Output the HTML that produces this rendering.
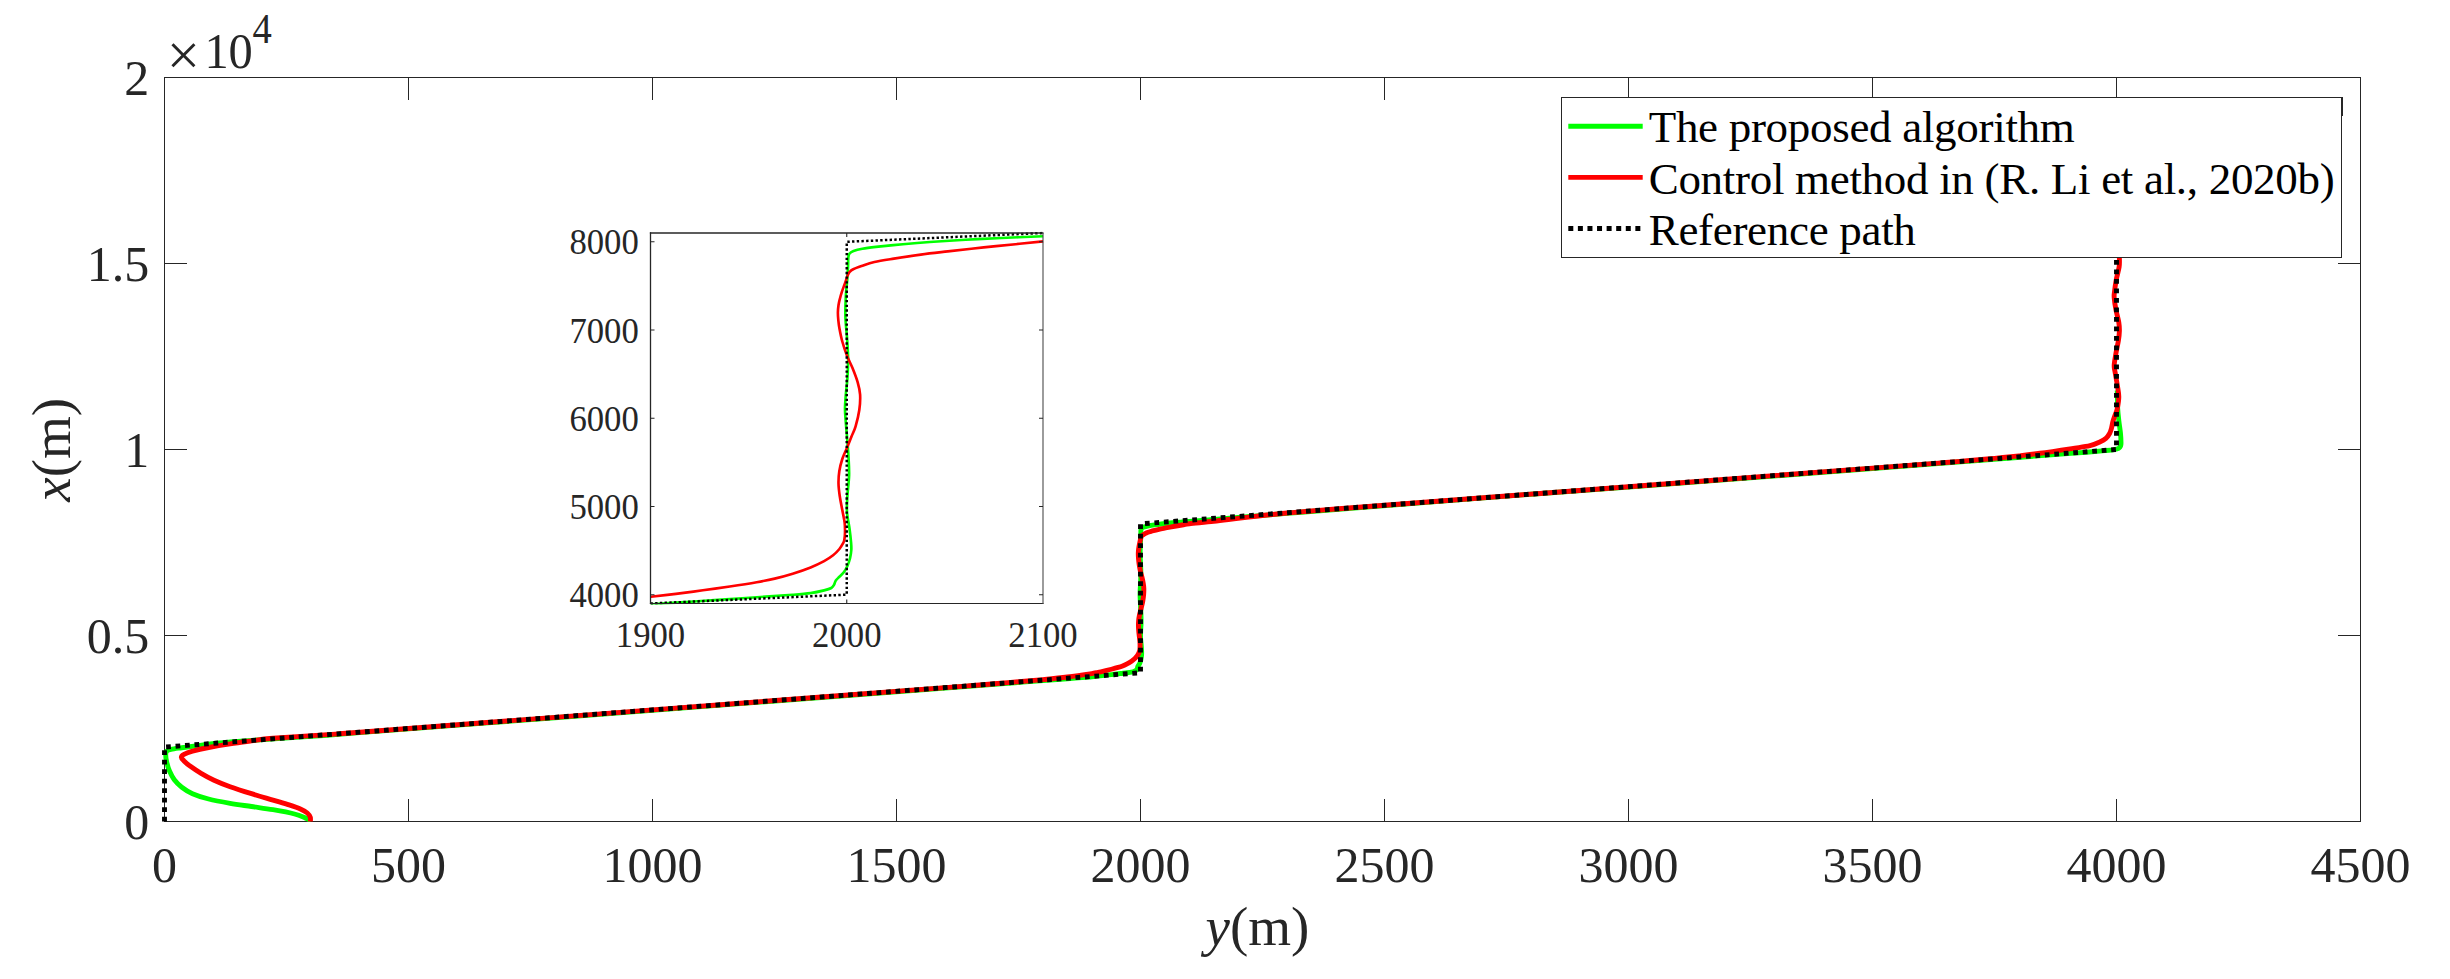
<!DOCTYPE html>
<html><head><meta charset="utf-8"><title>Path following comparison</title>
<style>html,body{margin:0;padding:0;background:#fff}svg{display:block}text{font-family:'Liberation Serif',serif}</style></head><body>
<svg width="2450" height="979" viewBox="0 0 2450 979">
<rect x="0" y="0" width="2450" height="979" fill="#fff"/>
<g stroke="#262626" stroke-width="1" fill="none" shape-rendering="crispEdges">
<rect x="164.5" y="77.5" width="2196.0" height="744.0"/>
<path d="M408.5 822.0V799.0M408.5 77.0V100.0"/>
<path d="M652.5 822.0V799.0M652.5 77.0V100.0"/>
<path d="M896.5 822.0V799.0M896.5 77.0V100.0"/>
<path d="M1140.5 822.0V799.0M1140.5 77.0V100.0"/>
<path d="M1384.5 822.0V799.0M1384.5 77.0V100.0"/>
<path d="M1628.5 822.0V799.0M1628.5 77.0V100.0"/>
<path d="M1872.5 822.0V799.0M1872.5 77.0V100.0"/>
<path d="M2116.5 822.0V799.0M2116.5 77.0V100.0"/>
<path d="M164.0 635.5H187.0M2361.0 635.5H2338.0"/>
<path d="M164.0 449.5H187.0M2361.0 449.5H2338.0"/>
<path d="M164.0 263.5H187.0M2361.0 263.5H2338.0"/>
</g>
<g fill="#262626" font-size="51">
<text transform="translate(164.5 881.9) scale(0.98 1)" text-anchor="middle">0</text>
<text transform="translate(408.5 881.9) scale(0.98 1)" text-anchor="middle">500</text>
<text transform="translate(652.5 881.9) scale(0.98 1)" text-anchor="middle">1000</text>
<text transform="translate(896.5 881.9) scale(0.98 1)" text-anchor="middle">1500</text>
<text transform="translate(1140.5 881.9) scale(0.98 1)" text-anchor="middle">2000</text>
<text transform="translate(1384.5 881.9) scale(0.98 1)" text-anchor="middle">2500</text>
<text transform="translate(1628.5 881.9) scale(0.98 1)" text-anchor="middle">3000</text>
<text transform="translate(1872.5 881.9) scale(0.98 1)" text-anchor="middle">3500</text>
<text transform="translate(2116.5 881.9) scale(0.98 1)" text-anchor="middle">4000</text>
<text transform="translate(2360.5 881.9) scale(0.98 1)" text-anchor="middle">4500</text>
<text transform="translate(149.2 838.9) scale(0.98 1)" text-anchor="end">0</text>
<text transform="translate(149.2 652.9) scale(0.98 1)" text-anchor="end">0.5</text>
<text transform="translate(149.2 466.9) scale(0.98 1)" text-anchor="end">1</text>
<text transform="translate(149.2 280.9) scale(0.98 1)" text-anchor="end">1.5</text>
<text transform="translate(149.2 94.9) scale(0.98 1)" text-anchor="end">2</text>
<text x="166.7" y="75.1" font-size="59">×</text>
<text transform="translate(204.4 68) scale(0.95 1)">10</text>
<text transform="translate(252.4 43) scale(0.93 1)" font-size="41.5">4</text>
</g>
<g fill="#262626" font-size="55">
<text x="1257.5" y="944.5" text-anchor="middle"><tspan font-style="italic">y</tspan>(m)</text>
<text transform="translate(70 449.8) rotate(-90)" text-anchor="middle"><tspan font-style="italic">x</tspan>(m)</text>
</g>
<clipPath id="mc"><rect x="161.5" y="77.5" width="2202.0" height="744.5"/></clipPath>
<g fill="none" stroke-linejoin="round" stroke-linecap="butt" clip-path="url(#mc)">
<path d="M310.30 821.50C310.12 821.20 310.05 820.30 309.20 819.70C308.35 819.10 307.65 818.85 305.20 817.90C302.75 816.95 299.87 815.37 294.50 814.00C289.13 812.63 280.17 810.95 273.00 809.70C265.83 808.45 258.65 807.57 251.50 806.50C244.35 805.43 237.25 804.55 230.10 803.30C222.95 802.05 214.87 800.60 208.60 799.00C202.33 797.40 196.97 795.67 192.50 793.70C188.03 791.73 184.83 789.53 181.80 787.20C178.77 784.87 176.35 782.38 174.30 779.70C172.25 777.02 170.75 773.97 169.50 771.10C168.25 768.23 167.43 765.18 166.80 762.50C166.17 759.82 165.70 756.92 165.70 755.00C165.70 753.08 165.90 751.95 166.80 751.00C167.70 750.05 168.60 749.85 171.10 749.30C173.60 748.75 177.33 748.32 181.80 747.70C186.27 747.08 191.63 746.38 197.90 745.60C204.17 744.82 211.55 743.78 219.40 743.00C227.25 742.22 229.75 742.00 245.00 740.90C260.25 739.80 291.78 737.76 310.90 736.39C330.02 735.01 319.03 735.77 359.70 732.67C400.37 729.57 489.83 722.75 554.90 717.79C619.97 712.83 685.03 707.87 750.10 702.91C815.17 697.95 892.43 692.06 945.30 688.03C998.17 684.00 1042.89 680.61 1067.30 678.73C1091.71 676.84 1085.91 677.24 1091.77 676.72C1097.64 676.19 1099.22 675.94 1102.49 675.58C1105.77 675.22 1108.44 674.91 1111.42 674.56C1114.39 674.22 1117.74 673.81 1120.35 673.51C1122.95 673.21 1125.20 673.00 1127.06 672.75C1128.92 672.51 1130.21 672.34 1131.51 672.03C1132.81 671.73 1134.01 671.25 1134.87 670.90C1135.73 670.54 1136.25 670.27 1136.66 669.88C1137.07 669.50 1137.14 669.11 1137.33 668.58C1137.52 668.04 1137.55 667.25 1137.78 666.68C1138.00 666.11 1138.34 665.73 1138.67 665.16C1139.00 664.59 1139.43 664.02 1139.77 663.26C1140.10 662.50 1140.40 661.61 1140.66 660.61C1140.92 659.60 1141.17 658.36 1141.33 657.23C1141.49 656.11 1141.59 654.93 1141.63 653.86C1141.67 652.79 1141.66 652.33 1141.58 650.82C1141.51 649.31 1141.35 646.94 1141.18 644.79C1141.01 642.64 1140.65 640.22 1140.56 637.92C1140.48 635.62 1140.57 633.59 1140.66 631.00C1140.75 628.42 1141.04 625.13 1141.08 622.40C1141.13 619.67 1141.02 617.37 1140.94 614.64C1140.85 611.91 1140.67 608.48 1140.56 606.04C1140.45 603.60 1140.35 601.95 1140.26 600.01C1140.18 598.06 1140.06 596.30 1140.06 594.36C1140.06 592.41 1140.16 590.48 1140.26 588.33C1140.36 586.18 1140.57 584.04 1140.66 581.45C1140.76 578.87 1140.85 575.68 1140.84 572.81C1140.82 569.93 1140.67 567.07 1140.56 564.21C1140.45 561.34 1140.21 558.48 1140.16 555.60C1140.11 552.73 1140.18 549.69 1140.26 546.96C1140.35 544.22 1140.57 541.42 1140.66 539.20C1140.76 536.98 1140.80 535.07 1140.84 533.63C1140.87 532.20 1140.83 531.38 1140.89 530.60C1140.94 529.81 1140.94 529.38 1141.16 528.91C1141.37 528.44 1141.64 528.12 1142.18 527.77C1142.72 527.42 1143.46 527.09 1144.39 526.80C1145.32 526.51 1146.07 526.36 1147.75 526.04C1149.43 525.73 1152.23 525.25 1154.46 524.90C1156.70 524.56 1158.55 524.28 1161.15 523.98C1163.75 523.67 1167.10 523.33 1170.08 523.05C1173.05 522.77 1175.80 522.54 1179.01 522.29C1182.21 522.04 1183.54 522.00 1189.32 521.53C1195.11 521.06 1205.57 520.14 1213.70 519.45C1221.83 518.77 1225.90 518.42 1238.10 517.42C1250.30 516.42 1270.63 514.75 1286.90 513.43C1303.17 512.11 1311.30 511.45 1335.70 509.51C1360.10 507.58 1400.77 504.37 1433.30 501.83C1465.83 499.29 1498.37 496.72 1530.90 494.27C1563.43 491.82 1571.57 491.43 1628.50 487.15C1685.43 482.86 1799.30 474.13 1872.50 468.55C1945.70 462.97 2031.62 456.42 2067.70 453.67C2103.78 450.91 2082.78 452.51 2089.00 452.00C2095.22 451.49 2100.83 451.00 2105.00 450.60C2109.17 450.20 2111.73 449.97 2114.00 449.60C2116.27 449.23 2117.50 449.00 2118.60 448.40C2119.70 447.80 2120.20 446.90 2120.60 446.00C2121.00 445.10 2121.02 445.08 2121.00 443.00C2120.98 440.92 2120.85 437.13 2120.50 433.50C2120.15 429.87 2119.37 425.28 2118.90 421.20C2118.43 417.12 2117.95 413.37 2117.70 409.00C2117.45 404.63 2117.48 398.08 2117.40 395.00C2117.32 391.92 2117.23 391.25 2117.20 390.50" stroke="#00ff00" stroke-width="4.90"/>
<path d="M310.30 821.50C310.30 820.80 310.80 818.72 310.30 817.30C309.80 815.88 308.87 814.35 307.30 813.00C305.73 811.65 303.93 810.55 300.90 809.20C297.87 807.85 293.75 806.42 289.10 804.90C284.45 803.38 279.27 801.97 273.00 800.10C266.73 798.23 258.65 795.93 251.50 793.70C244.35 791.47 236.35 788.95 230.10 786.70C223.85 784.45 218.83 782.43 214.00 780.20C209.17 777.97 205.03 775.62 201.10 773.30C197.17 770.98 193.25 768.37 190.40 766.30C187.55 764.23 185.52 762.42 184.00 760.90C182.48 759.38 181.30 758.30 181.30 757.20C181.30 756.10 182.13 755.30 184.00 754.30C185.87 753.30 188.40 752.33 192.50 751.20C196.60 750.07 202.33 748.73 208.60 747.50C214.87 746.27 222.95 744.90 230.10 743.80C237.25 742.70 244.35 741.82 251.50 740.90C258.65 739.98 259.03 739.44 273.00 738.30C286.97 737.16 320.85 735.09 335.30 734.08C349.75 733.07 323.10 735.01 359.70 732.22C396.30 729.43 489.83 722.30 554.90 717.34C619.97 712.38 685.03 707.42 750.10 702.46C815.17 697.50 908.70 690.37 945.30 687.58C981.90 684.79 961.57 686.35 969.70 685.72C977.83 685.09 985.97 684.44 994.10 683.79C1002.23 683.13 1010.37 682.47 1018.50 681.78C1026.63 681.08 1034.77 680.41 1042.90 679.62C1051.03 678.83 1059.15 678.06 1067.30 677.05C1075.45 676.05 1086.66 674.37 1091.77 673.59C1096.89 672.81 1095.86 672.83 1098.02 672.37C1100.18 671.91 1102.50 671.37 1104.73 670.85C1106.96 670.33 1109.19 669.82 1111.42 669.25C1113.65 668.68 1116.25 667.99 1118.11 667.44C1119.97 666.88 1121.09 666.52 1122.58 665.92C1124.08 665.32 1125.57 664.64 1127.06 663.85C1128.55 663.07 1130.21 662.08 1131.51 661.20C1132.81 660.31 1133.94 659.39 1134.87 658.54C1135.80 657.69 1136.47 656.94 1137.11 656.09C1137.74 655.24 1138.27 654.26 1138.67 653.44C1139.08 652.62 1139.34 651.79 1139.54 651.16C1139.75 650.53 1139.80 650.42 1139.89 649.64C1139.98 648.87 1140.05 647.76 1140.06 646.52C1140.08 645.28 1140.08 643.80 1139.97 642.22C1139.85 640.64 1139.60 638.90 1139.39 637.03C1139.19 635.16 1138.90 632.87 1138.75 631.00C1138.59 629.14 1138.47 627.58 1138.45 625.86C1138.43 624.14 1138.49 622.40 1138.65 620.67C1138.80 618.94 1139.07 617.14 1139.39 615.48C1139.71 613.83 1140.18 612.34 1140.56 610.76C1140.94 609.19 1141.32 607.55 1141.68 606.04C1142.04 604.53 1142.38 603.56 1142.70 601.69C1143.02 599.83 1143.43 597.05 1143.62 594.82C1143.81 592.59 1143.89 590.27 1143.82 588.33C1143.75 586.39 1143.54 585.04 1143.22 583.18C1142.91 581.32 1142.37 579.02 1141.93 577.15C1141.49 575.28 1140.98 573.83 1140.56 571.96C1140.14 570.10 1139.71 567.87 1139.39 565.93C1139.08 563.99 1138.84 561.84 1138.67 560.33C1138.51 558.81 1138.46 557.93 1138.40 556.83C1138.34 555.72 1138.29 554.74 1138.30 553.71C1138.31 552.67 1138.37 551.60 1138.45 550.63C1138.53 549.66 1138.66 548.79 1138.80 547.89C1138.93 546.98 1139.07 546.09 1139.24 545.19C1139.41 544.29 1139.63 543.39 1139.82 542.49C1140.01 541.58 1140.23 540.49 1140.39 539.75C1140.54 539.00 1140.60 538.53 1140.74 538.02C1140.87 537.50 1140.96 537.09 1141.18 536.67C1141.41 536.25 1141.61 535.91 1142.10 535.49C1142.60 535.07 1143.29 534.65 1144.17 534.14C1145.05 533.63 1146.03 532.94 1147.38 532.41C1148.72 531.88 1150.30 531.50 1152.22 530.98C1154.15 530.46 1156.68 529.79 1158.91 529.29C1161.15 528.78 1163.02 528.45 1165.63 527.94C1168.23 527.43 1171.58 526.79 1174.55 526.25C1177.53 525.72 1181.02 525.16 1183.48 524.73C1185.94 524.31 1184.29 524.30 1189.32 523.72C1194.36 523.15 1205.57 522.20 1213.70 521.30C1221.83 520.40 1229.97 519.29 1238.10 518.32C1246.23 517.35 1254.37 516.37 1262.50 515.49C1270.63 514.61 1278.77 513.79 1286.90 513.04C1295.03 512.28 1303.17 511.62 1311.30 510.95C1319.43 510.28 1323.50 509.96 1335.70 509.02C1347.90 508.08 1335.70 509.02 1384.50 505.30C1433.30 501.58 1547.17 492.90 1628.50 486.70C1709.83 480.50 1823.70 471.82 1872.50 468.10C1921.30 464.38 1909.10 465.31 1921.30 464.38C1933.50 463.45 1937.57 463.17 1945.70 462.52C1953.83 461.87 1961.97 461.17 1970.10 460.47C1978.23 459.77 1986.37 459.09 1994.50 458.32C2002.63 457.54 2011.32 456.66 2018.90 455.82C2026.48 454.99 2031.18 454.50 2040.00 453.30C2048.82 452.10 2063.47 449.87 2071.80 448.60C2080.13 447.33 2085.33 446.80 2090.00 445.70C2094.67 444.60 2097.15 443.22 2099.80 442.00C2102.45 440.78 2104.27 439.82 2105.90 438.40C2107.53 436.98 2108.68 435.13 2109.60 433.50C2110.52 431.87 2110.83 430.65 2111.40 428.60C2111.97 426.55 2112.38 423.47 2113.00 421.20C2113.62 418.93 2114.40 417.03 2115.10 415.00C2115.80 412.97 2116.58 412.05 2117.20 409.00C2117.82 405.95 2118.80 400.78 2118.80 396.70C2118.80 392.62 2117.82 388.58 2117.20 384.50C2116.58 380.42 2115.60 375.42 2115.10 372.20C2114.60 368.98 2114.05 368.40 2114.20 365.20C2114.35 362.00 2115.30 357.08 2116.00 353.00C2116.70 348.92 2117.83 344.38 2118.40 340.70C2118.97 337.02 2119.33 333.97 2119.40 330.90C2119.47 327.83 2119.37 325.77 2118.80 322.30C2118.23 318.83 2116.77 314.17 2116.00 310.10C2115.23 306.03 2114.45 300.97 2114.20 297.90C2113.95 294.83 2114.15 294.77 2114.50 291.70C2114.85 288.63 2115.53 283.58 2116.30 279.50C2117.07 275.42 2118.58 270.67 2119.10 267.20C2119.62 263.73 2119.50 262.40 2119.40 258.70C2119.30 255.00 2118.90 249.78 2118.50 245.00C2118.10 240.22 2117.25 232.50 2117.00 230.00" stroke="#ff0000" stroke-width="4.90"/>
<path d="M164.50 821.50L164.50 747.10L1140.50 672.70L1140.50 523.90L2116.50 449.50L2116.50 226.30" stroke="#000" stroke-width="4.90" stroke-dasharray="4.75 4.75" stroke-linejoin="miter"/>
</g>
<rect x="1561.5" y="97.5" width="780" height="160" fill="#fff" stroke="#262626" stroke-width="1" shape-rendering="crispEdges"/>
<g fill="none" stroke-width="4.90">
<path d="M1568.3 126.3H1642.7" stroke="#00ff00"/>
<path d="M1568.3 177.4H1642.7" stroke="#ff0000"/>
<path d="M1568.3 228.5H1642.7" stroke="#000" stroke-dasharray="5.00 4.58"/>
</g>
<path d="M2342.5 97V116" stroke="#262626" stroke-width="1" shape-rendering="crispEdges"/>
<g fill="#000" font-size="45" letter-spacing="-0.3">
<text x="1648.7" y="142">The proposed algorithm</text>
<text x="1648.7" y="193.5">Control method in (R. Li et al., 2020b)</text>
<text x="1648.7" y="244.5">Reference path</text>
</g>
<rect x="650.5" y="233.0" width="392.5" height="370.5" fill="#fff"/>
<clipPath id="ic"><rect x="650.0" y="231.5" width="394.0" height="373.0"/></clipPath>
<g fill="none" stroke-linejoin="round" clip-path="url(#ic)">
<path d="M650.80 604.20C657.98 603.75 680.73 602.35 693.90 601.50C707.07 600.65 717.83 599.92 729.80 599.10C741.77 598.28 755.22 597.32 765.70 596.60C776.18 595.88 785.22 595.38 792.70 594.80C800.18 594.22 805.37 593.83 810.60 593.10C815.83 592.37 820.65 591.25 824.10 590.40C827.55 589.55 829.65 588.92 831.30 588.00C832.95 587.08 833.25 586.17 834.00 584.90C834.75 583.63 834.90 581.75 835.80 580.40C836.70 579.05 838.07 578.15 839.40 576.80C840.73 575.45 842.47 574.10 843.80 572.30C845.13 570.50 846.35 568.38 847.40 566.00C848.45 563.62 849.45 560.67 850.10 558.00C850.75 555.33 851.13 552.53 851.30 550.00C851.47 547.47 851.40 546.38 851.10 542.80C850.80 539.22 850.18 533.60 849.50 528.50C848.82 523.40 847.35 517.65 847.00 512.20C846.65 506.75 847.05 501.93 847.40 495.80C847.75 489.67 848.92 481.87 849.10 475.40C849.28 468.93 848.85 463.47 848.50 457.00C848.15 450.53 847.45 442.38 847.00 436.60C846.55 430.82 846.13 426.92 845.80 422.30C845.47 417.68 845.00 413.52 845.00 408.90C845.00 404.28 845.40 399.70 845.80 394.60C846.20 389.50 847.02 384.43 847.40 378.30C847.78 372.17 848.17 364.62 848.10 357.80C848.03 350.98 847.45 344.20 847.00 337.40C846.55 330.60 845.60 323.82 845.40 317.00C845.20 310.18 845.47 302.98 845.80 296.50C846.13 290.02 847.02 283.37 847.40 278.10C847.78 272.83 847.95 268.30 848.10 264.90C848.25 261.50 848.08 259.57 848.30 257.70C848.52 255.83 848.53 254.82 849.40 253.70C850.27 252.58 851.33 251.83 853.50 251.00C855.67 250.17 858.67 249.38 862.40 248.70C866.13 248.02 869.15 247.65 875.90 246.90C882.65 246.15 893.92 245.02 902.90 244.20C911.88 243.38 919.33 242.73 929.80 242.00C940.27 241.27 953.73 240.47 965.70 239.80C977.67 239.13 988.70 238.60 1001.60 238.00C1014.50 237.40 1036.18 236.50 1043.10 236.20" stroke="#00ff00" stroke-width="2.65"/>
<path d="M650.80 596.80C654.98 596.32 667.22 594.98 675.90 593.90C684.58 592.82 693.92 591.53 702.90 590.30C711.88 589.07 720.83 587.85 729.80 586.50C738.77 585.15 749.22 583.52 756.70 582.20C764.18 580.88 768.70 580.02 774.70 578.60C780.70 577.18 786.72 575.57 792.70 573.70C798.68 571.83 805.37 569.50 810.60 567.40C815.83 565.30 820.35 563.12 824.10 561.10C827.85 559.08 830.55 557.32 833.10 555.30C835.65 553.28 837.77 550.95 839.40 549.00C841.03 547.05 842.08 545.10 842.90 543.60C843.72 542.10 843.95 541.83 844.30 540.00C844.65 538.17 844.95 535.53 845.00 532.60C845.05 529.67 845.05 526.15 844.60 522.40C844.15 518.65 843.12 514.53 842.30 510.10C841.48 505.67 840.33 500.22 839.70 495.80C839.07 491.38 838.57 487.68 838.50 483.60C838.43 479.52 838.67 475.40 839.30 471.30C839.93 467.20 841.02 462.92 842.30 459.00C843.58 455.08 845.47 451.53 847.00 447.80C848.53 444.07 850.07 440.18 851.50 436.60C852.93 433.02 854.30 430.73 855.60 426.30C856.90 421.87 858.55 415.28 859.30 410.00C860.05 404.72 860.37 399.20 860.10 394.60C859.83 390.00 858.97 386.82 857.70 382.40C856.43 377.98 854.28 372.53 852.50 368.10C850.72 363.67 848.70 360.23 847.00 355.80C845.30 351.37 843.57 346.10 842.30 341.50C841.03 336.90 840.07 331.80 839.40 328.20C838.73 324.60 838.55 322.52 838.30 319.90C838.05 317.28 837.87 314.95 837.90 312.50C837.93 310.05 838.17 307.50 838.50 305.20C838.83 302.90 839.37 300.85 839.90 298.70C840.43 296.55 841.02 294.43 841.70 292.30C842.38 290.17 843.23 288.05 844.00 285.90C844.77 283.75 845.68 281.17 846.30 279.40C846.92 277.63 847.17 276.52 847.70 275.30C848.23 274.08 848.58 273.10 849.50 272.10C850.42 271.10 851.20 270.30 853.20 269.30C855.20 268.30 857.97 267.32 861.50 266.10C865.03 264.88 869.00 263.25 874.40 262.00C879.80 260.75 886.17 259.83 893.90 258.60C901.63 257.37 911.82 255.80 920.80 254.60C929.78 253.40 937.32 252.60 947.80 251.40C958.28 250.20 971.73 248.67 983.70 247.40C995.67 246.13 1009.70 244.80 1019.60 243.80C1029.50 242.80 1039.18 241.80 1043.10 241.40" stroke="#ff0000" stroke-width="2.65"/>
<path d="M650.50 603.50L846.75 594.68L846.75 241.82L1043.00 233.00" stroke="#000" stroke-width="2.50" stroke-dasharray="2.40 2.30" stroke-linejoin="miter"/>
</g>
<g stroke="#262626" fill="none">
<path d="M650.5 232.3V604.0" stroke-width="1.3"/>
<path d="M649.9 233.0H1043.5" stroke-width="1.6"/>
<path d="M649.9 603.5H1043.5" stroke-width="1.1"/>
<path d="M1043.0 233.0V604.0" stroke-width="1.1" stroke="#4a4a4a"/>
<path d="M650.5 594.68H654.5M1043.0 594.68H1039.0" stroke-width="1.1"/>
<path d="M650.5 506.46H654.5M1043.0 506.46H1039.0" stroke-width="1.1"/>
<path d="M650.5 418.25H654.5M1043.0 418.25H1039.0" stroke-width="1.1"/>
<path d="M650.5 330.04H654.5M1043.0 330.04H1039.0" stroke-width="1.1"/>
<path d="M650.5 241.82H654.5M1043.0 241.82H1039.0" stroke-width="1.1"/>
<path d="M846.75 603.5V599.5M846.75 233.0V237.0" stroke-width="1.1"/>
</g>
<g fill="#262626" font-size="35.6">
<text transform="translate(638.8 607.3) scale(0.975 1)" text-anchor="end">4000</text>
<text transform="translate(638.8 519.1) scale(0.975 1)" text-anchor="end">5000</text>
<text transform="translate(638.8 430.9) scale(0.975 1)" text-anchor="end">6000</text>
<text transform="translate(638.8 342.6) scale(0.975 1)" text-anchor="end">7000</text>
<text transform="translate(638.8 254.4) scale(0.975 1)" text-anchor="end">8000</text>
<text transform="translate(650.5 646.5) scale(0.975 1)" text-anchor="middle">1900</text>
<text transform="translate(846.8 646.5) scale(0.975 1)" text-anchor="middle">2000</text>
<text transform="translate(1043.0 646.5) scale(0.975 1)" text-anchor="middle">2100</text>
</g>
</svg></body></html>
